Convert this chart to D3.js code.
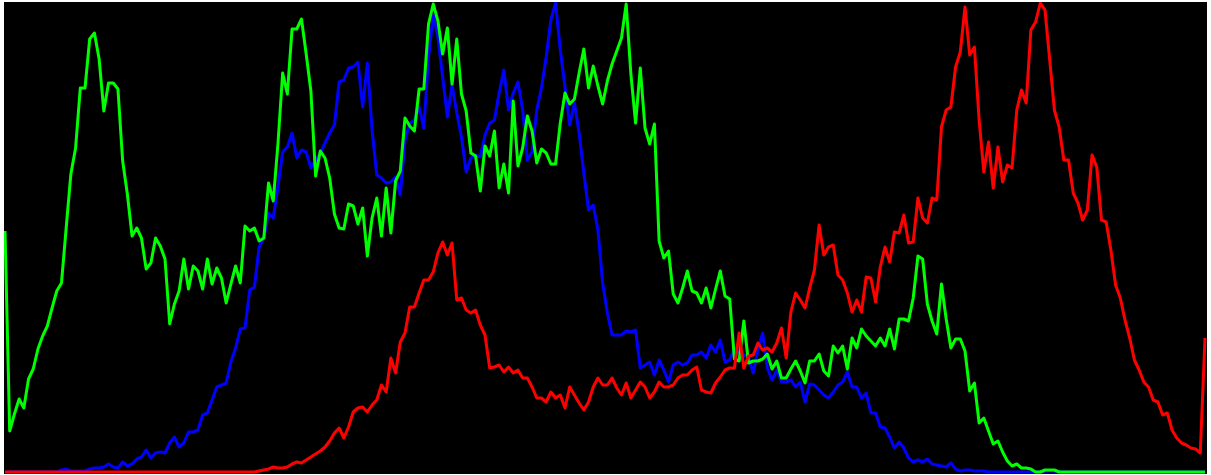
<!DOCTYPE html>
<html>
<head>
<meta charset="utf-8">
<script src="https://cdn.jsdelivr.net/npm/d3@7"></script>
<style>
  html, body { margin: 0; padding: 0; background: #ffffff; }
  svg { display: block; }
</style>
</head>
<body>
<svg id="hist" width="1211" height="475"></svg>
<script>
// Per-channel intensity histograms (256 bins), each normalised to the plot height.
const bins = d3.range(256);

const blueCounts = [
  0,0,0,0,0,0,0,0,0,0,0,0,2,3,1,1,
  1,1,3,4,4,5,8,5,4,10,6,8,13,15,22,14,
  19,20,19,29,35,25,29,40,40,42,57,59,72,85,87,89,
  110,124,143,144,182,185,225,234,259,254,285,320,325,339,314,322,
  320,304,312,319,329,339,347,390,392,404,405,410,365,409,342,297,
  294,289,290,295,277,332,349,352,365,344,415,457,435,395,355,387,
  359,335,300,314,317,315,337,349,352,379,402,362,379,390,362,312,
  320,362,384,415,452,469,422,385,347,369,339,299,262,267,242,189,
  159,137,137,137,141,140,142,104,107,110,97,112,102,90,107,110,
  107,109,117,117,120,114,127,120,132,110,112,124,119,117,115,99,
  122,139,104,92,102,90,90,92,85,90,70,88,87,82,77,74,
  80,87,90,100,85,85,74,79,59,59,45,44,35,24,30,24,
  14,10,12,10,13,8,7,6,5,9,3,1,2,2,1,1,
  1,0,0,0,0,0,0,0,0,0,0,0,0,1,1,1,
  0,0,0,0,0,0,0,0,0,0,0,0,0,0,0,0,
  0,0,0,0,0,0,0,0,0,0,0,0,0,0,0,0
];

const greenCounts = [
  241,41,58,73,64,93,103,123,136,146,164,181,189,244,298,324,
  384,384,433,439,413,361,389,389,383,311,278,236,244,234,203,209,
  234,226,213,148,168,181,213,183,206,201,183,213,188,204,194,169,
  188,206,189,246,241,244,231,234,289,271,328,399,378,443,443,453,
  418,381,296,321,314,294,258,244,243,268,266,248,264,216,254,274,
  236,284,239,291,301,354,346,341,383,383,448,468,451,418,444,388,
  433,378,361,319,316,281,326,316,341,284,308,279,371,306,324,356,
  341,309,323,319,308,308,349,379,368,373,399,423,384,406,386,368,
  391,408,421,434,468,398,349,404,344,328,348,231,214,221,178,169,
  184,201,181,179,169,184,164,183,201,176,173,113,111,151,109,111,
  111,113,118,103,111,94,94,103,111,101,89,111,111,118,101,96,
  126,119,126,103,134,124,143,136,131,126,134,126,143,123,153,153,
  151,174,216,213,168,151,138,188,153,124,133,133,121,81,89,49,
  54,41,28,31,20,11,6,8,4,4,3,0,0,2,2,2,
  0,0,0,0,0,0,0,0,0,0,0,0,0,0,0,0,
  0,0,0,0,0,0,0,0,0,0,0,0,0,0,0,0
];

const redCounts = [
  0,0,0,0,0,0,0,0,0,0,0,0,0,0,0,0,
  0,0,0,0,0,0,0,0,0,0,0,0,0,0,0,0,
  0,0,0,0,0,0,0,0,0,0,0,0,0,0,0,0,
  0,0,0,0,0,0,1,2,3,5,4,4,5,8,10,9,
  12,15,18,21,25,31,39,44,34,45,60,64,65,60,67,72,
  87,80,114,99,130,139,165,165,179,192,192,200,219,230,217,229,
  172,174,162,159,162,147,137,104,105,107,100,105,99,102,94,94,
  85,74,74,70,80,74,77,64,85,77,69,62,70,85,94,87,
  87,94,84,77,89,74,82,90,85,74,80,90,85,85,87,94,
  97,97,102,105,82,80,79,89,95,102,104,104,139,104,116,117,
  129,122,124,120,129,144,114,160,179,172,164,184,202,247,217,225,
  227,197,192,179,160,172,160,195,194,170,205,225,210,240,239,257,
  229,230,274,254,249,274,272,345,362,365,405,420,465,417,425,352,
  300,330,284,325,290,307,304,362,382,369,442,450,469,462,412,362,
  345,312,312,279,269,252,262,317,305,252,250,222,187,174,152,134,
  112,102,90,85,72,70,57,59,42,34,29,27,24,23,19,134
];

// Drawn in the order b, g, r so red sits on top.
const channels = [
  { name: "blue",  color: "#0000ff", values: blueCounts },
  { name: "green", color: "#00ff00", values: greenCounts },
  { name: "red",   color: "#ff0000", values: redCounts }
];

const svg = d3.select("#hist");
const plot = { left: 4, top: 2, right: 1207, bottom: 474 };

const x = d3.scaleLinear().domain([0, 255]).range([5, 1205]);
const y = d3.scaleLinear().domain([0, 470]).range([472, 2]);

svg.append("defs").append("clipPath").attr("id", "plot-clip")
  .append("rect")
  .attr("x", plot.left).attr("y", plot.top)
  .attr("width", plot.right - plot.left)
  .attr("height", plot.bottom - plot.top);

svg.append("rect")
  .attr("x", plot.left).attr("y", plot.top)
  .attr("width", plot.right - plot.left)
  .attr("height", plot.bottom - plot.top)
  .attr("fill", "#000000");

const line = d3.line()
  .x((d, i) => x(bins[i]))
  .y(d => y(d));

svg.append("g")
  .attr("clip-path", "url(#plot-clip)")
  .selectAll("path")
  .data(channels)
  .join("path")
  .attr("class", d => "hist-" + d.name)
  .attr("d", d => line(d.values))
  .attr("fill", "none")
  .attr("stroke", d => d.color)
  .attr("stroke-width", 3)
  .attr("stroke-linejoin", "round")
  .attr("stroke-linecap", "butt");
</script>
</body>
</html>
